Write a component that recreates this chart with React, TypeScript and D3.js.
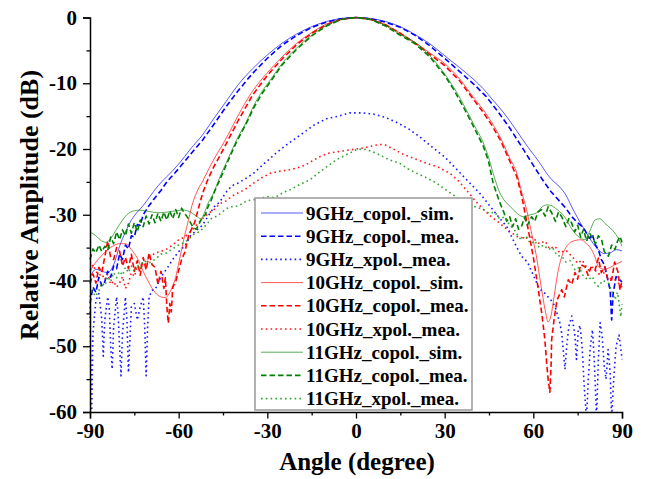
import * as d3 from "d3";
import React, { useRef, useEffect } from "react";

type Pt = [number, number];

// angle (deg), relative amplitude (dB)
const sim9: Pt[] = [
  [-90, -39.5], [-88, -38.3], [-86, -38.6], [-84, -38.8], [-82, -37.6], [-80, -34.8],
  [-78, -32.6], [-76, -30.8], [-74, -29.6], [-72, -28.6], [-70, -27.4], [-67, -25.6],
  [-64, -24.2], [-60, -22.3], [-56, -20.0], [-52, -17.9], [-48, -15.3], [-44, -12.8],
  [-40, -10.3], [-35, -7.8], [-30, -5.7], [-25, -3.9], [-20, -2.5], [-15, -1.4],
  [-10, -0.6], [-5, -0.15], [0, 0], [5, -0.15], [10, -0.6], [15, -1.4], [20, -2.6],
  [25, -4.0], [30, -5.8], [35, -7.6], [40, -9.5], [43, -10.8], [46, -12.4], [50, -14.5],
  [54, -17.0], [58, -19.6], [62, -22.0], [65, -24.0], [67, -25.0], [69, -25.8],
  [71, -27.0], [73, -28.8], [75, -30.5], [78, -32.8], [81, -34.8], [84, -35.9],
  [86, -35.8], [88, -35.3], [90, -35.5],
];

const mea9: Pt[] = [
  [-90, -43.5], [-89, -41.0], [-88, -41.8], [-87, -39.5], [-86, -40.8], [-85, -40.2],
  [-84, -38.6], [-83, -39.5], [-82, -37.8], [-81, -38.2], [-80, -36.0], [-79, -36.8],
  [-78, -34.6], [-77, -35.2], [-76, -33.2], [-75, -33.4], [-74, -31.5], [-73, -31.6],
  [-72, -30.0], [-70, -28.6], [-68, -27.4], [-66, -26.3], [-64, -25.0], [-60, -23.0],
  [-56, -20.8], [-52, -18.7], [-48, -16.2], [-44, -13.6], [-40, -11.2], [-35, -8.5],
  [-30, -6.2], [-25, -4.2], [-20, -2.7], [-15, -1.5], [-10, -0.7], [-5, -0.2], [0, 0],
  [5, -0.2], [10, -0.7], [15, -1.5], [20, -2.7], [25, -4.3], [30, -6.2], [35, -8.2],
  [40, -10.2], [44, -12.0], [48, -14.3], [52, -16.8], [56, -19.6], [60, -22.5],
  [63, -24.6], [66, -26.5], [69, -28.0], [71, -29.0], [73, -30.3], [75, -31.2],
  [77, -32.0], [79, -33.6], [80, -33.0], [81, -34.6], [82, -35.3], [83, -36.8],
  [84, -37.6], [85, -39.5], [86, -41.5], [86.5, -46.0], [87, -42.0], [88, -39.4],
  [89, -39.8], [90, -40.2],
];

const xpol9: Pt[] = [
  [-90, -44], [-89.5, -62], [-89, -48], [-88, -43], [-87, -42], [-86, -46], [-85.5, -51.5],
  [-85, -46], [-84, -42.5], [-83.5, -44], [-83, -50], [-82.5, -53.5], [-82, -47],
  [-81, -42.5], [-80.5, -45], [-80, -50], [-79.5, -54.5], [-79, -48], [-78, -42.5],
  [-77.5, -46], [-77, -54], [-76.5, -49], [-76, -44], [-75, -43.5], [-74, -46],
  [-73, -44], [-72, -42.5], [-71.5, -47], [-71, -54.5], [-70.5, -47], [-70, -42.5],
  [-69, -41.5], [-68, -41.4], [-66, -39.5], [-64, -38.2], [-62, -36.8], [-60, -35.6],
  [-58, -34.8], [-56, -33.2], [-54, -32.4], [-52, -31.6], [-50, -30.2], [-48, -28.8],
  [-46, -28.0], [-44, -26.6], [-42, -25.6], [-40, -25.2], [-37, -24.4], [-34.7, -23.7],
  [-31, -22.2], [-27, -20.6], [-23, -19.2], [-18, -17.6], [-14, -16.3], [-10, -15.4],
  [-6, -15.0], [-2, -14.5], [2, -14.5], [6, -14.7], [10, -15.2], [14, -16.0],
  [18, -17.0], [22, -18.3], [26, -19.8], [30, -21.2], [33, -22.6], [36, -24.0],
  [39, -25.4], [42, -26.8], [45, -28.5], [48, -30.2], [51, -31.8], [54, -34.6],
  [56, -36.3], [58, -37.2], [60, -39.2], [62, -41.2], [64, -42.0], [66, -43.0],
  [67.3, -43.9], [69, -46.5], [69.6, -48], [70.2, -51], [70.7, -53.5], [71.3, -50],
  [72, -47], [73, -45.4], [74, -48], [74.6, -52], [75.2, -47.5], [75.8, -46.8],
  [76.5, -50], [77.2, -56], [78, -61], [78.6, -55], [79.3, -50], [80, -47.5],
  [80.6, -52], [81.4, -61], [82, -52], [82.6, -46.4], [83.3, -48.5], [84, -53],
  [84.6, -55], [85.3, -50.5], [86, -54], [86.5, -61], [87.2, -55], [88, -50],
  [89, -48.3], [89.5, -50], [90, -52],
];

const sim10: Pt[] = [
  [-90, -38.6], [-88, -37.2], [-86, -36.2], [-84, -35.3], [-82, -34.7], [-80, -34.4],
  [-78, -34.4], [-76, -35.3], [-74, -36.6], [-72, -38.6], [-70, -40.4], [-68, -41.8],
  [-66, -42.5], [-64.5, -42.6], [-63, -41.8], [-62, -40.8], [-61, -39.5], [-60, -37.4],
  [-59, -35.3], [-58, -33.2], [-57, -31.4], [-55.5, -28.6], [-53.5, -26.2], [-52, -25.0],
  [-50, -23.2], [-48, -21.5], [-46, -20.0], [-43, -17.6], [-40, -15.0], [-35, -11.2],
  [-30, -8.4], [-25, -6.0], [-20, -3.9], [-15, -2.3], [-10, -1.0], [-5, -0.3], [0, 0],
  [5, -0.3], [10, -1.1], [15, -2.4], [20, -3.8], [25, -5.4], [30, -7.0], [35, -9.3],
  [40, -12.3], [43, -14.0], [46, -16.0], [49, -18.4], [52, -21.4], [54.4, -23.7],
  [56, -26.5], [57.7, -29.2], [59.5, -33.0], [61, -36.2], [62.5, -40.5], [64, -44.5],
  [65, -46.3], [66, -45.3], [67, -42.5], [68.2, -39.0], [69.6, -36.4], [71, -35.0],
  [73, -34.1], [76, -33.8], [78, -34.4], [79.7, -35.3], [81, -36.6], [82, -37.9],
  [84, -38.3], [86, -38.0], [88, -37.5], [90, -37.1],
];

const mea10: Pt[] = [
  [-90, -40.5], [-89, -39.0], [-88, -40.4], [-87, -38.0], [-86, -38.8], [-85, -36.4],
  [-84, -34.0], [-83, -36.5], [-82, -36.8], [-81, -35.0], [-80, -35.5], [-79, -37.8],
  [-78, -36.5], [-77, -38.2], [-76, -36.0], [-75, -38.6], [-74, -37.0], [-73, -39.2],
  [-72, -36.5], [-71, -38.4], [-70, -35.8], [-69, -37.6], [-68, -38.0], [-67, -40.6],
  [-66, -38.6], [-65, -41.2], [-64.5, -39.6], [-64, -44.0], [-63.5, -46.5], [-63, -43.5],
  [-62.5, -44.8], [-62, -41.0], [-61, -40.2], [-60.2, -38.8], [-59, -36.8], [-58, -35.8],
  [-56.5, -33.0], [-54.6, -31.2], [-53, -28.5], [-51.8, -26.6], [-50, -24.5], [-48, -22.6],
  [-46, -21.0], [-43, -18.4], [-40, -15.8], [-35, -11.8], [-30, -8.8], [-25, -6.3],
  [-20, -4.1], [-15, -2.4], [-10, -1.1], [-5, -0.3], [0, 0], [5, -0.3], [10, -1.1],
  [15, -2.4], [20, -3.9], [25, -5.6], [30, -7.3], [35, -9.6], [40, -12.6], [43, -14.4],
  [46, -16.4], [49, -18.8], [52, -21.8], [54.4, -24.2], [56, -27.0], [58.3, -32.3],
  [60, -36.5], [61.7, -41.4], [63, -45.5], [63.9, -49], [64.5, -52.5], [65, -55.0],
  [65.6, -57.0], [66, -53.0], [66.2, -49.0], [67, -46.0], [68, -43.0], [69.6, -41.4],
  [70.5, -42.5], [71.8, -39.9], [73, -40.6], [74.1, -38.8], [75, -39.8], [76, -37.6],
  [77.5, -37.9], [78.5, -39.2], [79.5, -38.0], [80.9, -38.4], [82, -36.6], [83, -38.8],
  [84.2, -37.9], [85.3, -40.0], [86.5, -39.9], [87.5, -37.2], [88.7, -38.8],
  [89.3, -41.5], [90, -40.0],
];

const xpol10: Pt[] = [
  [-90, -38.5], [-89, -37.6], [-88, -38.6], [-87, -39.2], [-86, -39.0], [-85, -39.9],
  [-84, -39.0], [-83, -40.6], [-82, -40.1], [-81, -41.0], [-80, -40.4], [-79, -39.4],
  [-78, -41.2], [-77, -40.4], [-76, -38.8], [-75, -39.4], [-74, -37.8], [-73, -38.4],
  [-72, -37.2], [-71, -37.6], [-70, -36.6], [-68, -35.8], [-66, -35.6], [-64, -35.2],
  [-62, -34.6], [-60, -33.8], [-58, -33.4], [-56, -32.6], [-54, -31.6], [-52, -30.6],
  [-50, -29.8], [-48, -29.2], [-46, -28.3], [-44, -27.9], [-42, -27.2], [-40, -26.7],
  [-37.7, -26.2], [-35, -25.3], [-32, -24.4], [-29, -23.7], [-26, -23.4], [-23, -23.2],
  [-20, -22.9], [-17, -22.4], [-14, -21.6], [-12, -21.1], [-9, -20.6], [-6, -20.4],
  [-3, -20.2], [0, -20.0], [3, -19.8], [6, -19.5], [8, -19.3], [10, -19.4], [13, -20.1],
  [16, -20.8], [20, -21.5], [24, -22.2], [28, -22.8], [31.8, -23.7], [35, -25.0],
  [38, -26.6], [41, -28.2], [43.1, -29.2], [46, -30.4], [48.7, -31.3], [51, -32.2],
  [54.4, -33.3], [57, -33.6], [59.5, -33.4], [62, -34.4], [64, -34.0], [65.5, -35.2],
  [67.3, -34.8], [69, -35.8], [71, -35.4], [73, -36.3], [75, -37.4], [76.5, -36.9],
  [78.6, -38.4], [80, -38.0], [82, -39.0], [84.2, -38.8], [85.5, -39.6], [87.6, -39.9],
  [89, -40.5], [90, -41.0],
];

const sim11: Pt[] = [
  [-90, -32.6], [-88, -33.2], [-86, -34.0], [-84.5, -34.2], [-83, -33.6], [-81, -32.2],
  [-79, -30.8], [-77, -29.8], [-75, -29.4], [-73, -29.3], [-70, -29.5], [-67, -29.7],
  [-64, -29.6], [-61, -29.4], [-58, -29.3], [-56, -29.6], [-54, -30.2], [-52.5, -30.6],
  [-51.2, -29.6], [-50, -28.2], [-48.3, -26.8], [-46, -24.2], [-43, -21.2],
  [-40.4, -18.6], [-37, -15.8], [-34.7, -13.5], [-32, -11.4], [-29, -9.5], [-25, -7.0],
  [-20, -4.6], [-15, -2.7], [-10, -1.2], [-5, -0.3], [0, 0], [5, -0.3], [10, -1.2],
  [15, -2.6], [20, -3.8], [25, -5.8], [30, -8.6], [33, -10.6], [37.4, -14.1],
  [40, -16.4], [43.1, -19.1], [44.8, -21.2], [46.4, -23.7], [48.7, -26.7], [50.5, -28.0],
  [52.1, -28.7], [54, -29.6], [56.6, -30.3], [59, -30.0], [61.1, -29.7], [63, -28.8],
  [64.5, -28.5], [66, -28.6], [68, -29.2], [69.6, -29.8], [71, -30.6], [72.5, -31.8],
  [74.1, -32.8], [76, -33.6], [77.5, -33.8], [79, -32.6], [80.9, -30.8], [82.5, -30.6],
  [84.2, -31.3], [86, -32.0], [87.6, -32.8], [89, -33.8], [90, -34.8],
];

const mea11: Pt[] = [
  [-90, -36.8], [-89, -35.2], [-88, -35.8], [-87, -34.6], [-86, -35.6], [-85, -34.8],
  [-84, -35.4], [-83, -33.4], [-82, -34.4], [-81, -32.6], [-80, -33.8], [-79, -32.3],
  [-78, -33.2], [-77, -31.4], [-76, -32.8], [-75, -31.2], [-74, -32.6], [-73, -30.8],
  [-72, -31.8], [-71, -30.2], [-70, -31.4], [-69, -30.0], [-68, -31.2], [-67, -29.8],
  [-66, -31.0], [-65, -29.6], [-64, -30.8], [-63, -29.4], [-62, -30.6], [-61, -29.2],
  [-60, -30.4], [-59, -29.0], [-58, -29.8], [-57, -30.4], [-56, -31.2], [-55, -32.0],
  [-54, -32.2], [-53, -31.3], [-52, -30.4], [-51, -30.0], [-50, -28.7], [-49, -27.8],
  [-47.8, -26.4], [-46, -24.6], [-43, -21.5], [-40.4, -18.9], [-37, -16.0],
  [-34.7, -13.8], [-32, -11.7], [-29, -9.8], [-25, -7.2], [-20, -4.8], [-15, -2.8],
  [-10, -1.3], [-5, -0.3], [0, 0], [5, -0.3], [10, -1.3], [15, -2.7], [20, -4.0],
  [25, -6.0], [30, -8.8], [33, -10.9], [37.4, -14.5], [40, -16.8], [43.1, -19.6],
  [44.8, -21.8], [46.4, -25.2], [48.7, -28.2], [50, -29.6], [51, -31.0], [52, -30.3],
  [53, -31.8], [54, -30.6], [55, -32.2], [56, -31.8], [57, -30.4], [58, -31.6],
  [59.4, -30.3], [60.5, -31.0], [61.5, -29.6], [62.8, -29.2], [64, -30.2], [65, -28.8],
  [66.2, -29.7], [67.5, -31.0], [68.5, -29.6], [69.6, -30.3], [71, -31.8], [72, -30.6],
  [73, -31.3], [74, -32.6], [75, -31.6], [76, -33.4], [77, -32.2], [78, -34.0],
  [79, -32.8], [79.7, -33.3], [81, -34.4], [82, -33.2], [83.1, -33.8], [84, -35.6],
  [85.4, -36.3], [86.5, -34.6], [87.6, -35.3], [88.5, -34.0], [89.3, -33.3], [90, -34.2],
];

const xpol11: Pt[] = [
  [-90, -42.5], [-89, -41.2], [-88.4, -42.4], [-87.3, -41.9], [-86, -40.4], [-85, -40.8],
  [-84, -39.4], [-83, -40.2], [-82, -38.8], [-81, -39.6], [-80, -38.6], [-79, -39.2],
  [-78, -38.0], [-77, -38.8], [-76, -37.8], [-75, -38.6], [-74, -37.6], [-73, -38.2],
  [-72, -37.0], [-70, -37.3], [-68, -36.8], [-66, -36.0], [-64, -35.8], [-62.5, -35.3],
  [-60, -34.6], [-58, -34.2], [-56.8, -33.8], [-55, -33.0], [-53, -32.6], [-51.2, -31.8],
  [-49, -30.6], [-47, -30.2], [-45.6, -29.7], [-43.5, -29.0], [-41.5, -28.7],
  [-39.9, -28.7], [-37, -27.9], [-34.7, -27.7], [-32.5, -27.6], [-30.2, -27.2],
  [-28, -27.4], [-26.8, -27.2], [-24.5, -26.6], [-22.3, -26.2], [-19, -25.4],
  [-15.6, -24.7], [-12, -23.4], [-9, -22.4], [-6.5, -21.6], [-3, -20.8], [0.2, -20.1],
  [2.5, -20.0], [5, -20.3], [8, -20.9], [11, -21.6], [14.9, -22.2], [17.5, -23.0],
  [20.5, -23.7], [24, -24.4], [27.3, -25.2], [31, -26.4], [35.2, -27.7], [39, -28.6],
  [43.1, -29.2], [45, -29.8], [47, -29.6], [48.5, -30.6], [50.4, -30.3], [52, -31.6],
  [53.5, -32.2], [55, -33.4], [56, -33.8], [57.5, -33.2], [59, -34.4], [60.5, -34.0],
  [62, -35.0], [63.5, -34.6], [65.1, -35.3], [66.5, -35.0], [68, -36.2], [69.6, -36.3],
  [71, -37.2], [72.5, -37.0], [74.1, -38.4], [75.5, -38.0], [77, -39.4], [78.6, -39.9],
  [80, -39.4], [81, -40.6], [82, -40.9], [83.5, -40.0], [85.4, -40.4], [86.5, -41.6],
  [87.6, -42.9], [88.5, -41.8], [89.3, -44.4], [89.6, -45.5], [90, -43.6],
];

const xTicks = [-90, -60, -30, 0, 30, 60, 90];
const yTicks = [0, -10, -20, -30, -40, -50, -60];

type Kind = "sim" | "mea" | "xpol";
const series: { name: string; data: Pt[]; color: string; kind: Kind }[] = [
  { name: "9GHz_copol._sim.", data: sim9, color: "#0000ff", kind: "sim" },
  { name: "9GHz_copol._mea.", data: mea9, color: "#0000ff", kind: "mea" },
  { name: "9GHz_xpol._mea.", data: xpol9, color: "#0000ff", kind: "xpol" },
  { name: "10GHz_copol._sim.", data: sim10, color: "#ff0000", kind: "sim" },
  { name: "10GHz_copol._mea.", data: mea10, color: "#ff0000", kind: "mea" },
  { name: "10GHz_xpol._mea.", data: xpol10, color: "#ff0000", kind: "xpol" },
  { name: "11GHz_copol._sim.", data: sim11, color: "#008000", kind: "sim" },
  { name: "11GHz_copol._mea.", data: mea11, color: "#008000", kind: "mea" },
  { name: "11GHz_xpol._mea.", data: xpol11, color: "#1f9a1f", kind: "xpol" },
];

const lineStyle = (kind: Kind) => {
  if (kind === "sim") return { width: 1, dash: null as string | null, opacity: 0.65 };
  if (kind === "mea") return { width: 1.6, dash: "5.5,3", opacity: 1 };
  return { width: 1.6, dash: "1.6,3.2", opacity: 0.9 };
};

const FONT = "'Liberation Serif', 'Times New Roman', serif";

const App = () => {
  const ref = useRef<SVGSVGElement | null>(null);

  useEffect(() => {
    if (!ref.current) return;
    const svg = d3.select(ref.current);
    svg.selectAll("*").remove();

    const x = d3.scaleLinear().domain([-90, 90]).range([90, 622]);
    const y = d3.scaleLinear().domain([-60, 0]).range([412, 17.5]);

    svg.append("defs").append("clipPath").attr("id", "plot")
      .append("rect").attr("x", 89).attr("y", 0).attr("width", 535).attr("height", 412);

    const line = d3.line<Pt>().x((d) => x(d[0])).y((d) => y(d[1]));
    const smooth = d3.line<Pt>().x((d) => x(d[0])).y((d) => y(d[1])).curve(d3.curveMonotoneX);

    const plot = svg.append("g").attr("clip-path", "url(#plot)");
    series.forEach((s) => {
      const st = lineStyle(s.kind);
      plot.append("path")
        .datum(s.data)
        .attr("fill", "none")
        .attr("stroke", s.color)
        .attr("stroke-width", st.width)
        .attr("stroke-opacity", st.opacity)
        .attr("stroke-dasharray", st.dash)
        .attr("stroke-linejoin", "round")
        .attr("d", s.kind === "sim" ? smooth : line);
    });

    // axes: major + minor ticks
    const fmt = (d: d3.NumberValue) => String(d);
    const yAxis = svg.append("g").attr("transform", "translate(90,0)")
      .call(d3.axisLeft(y).tickValues(yTicks).tickSize(7).tickPadding(6).tickFormat(fmt));
    svg.append("g").attr("transform", "translate(90,0)")
      .call(d3.axisLeft(y).tickValues(d3.range(-55, 0, 10)).tickSize(3.5).tickFormat(() => ""))
      .select(".domain").remove();
    const xAxis = svg.append("g").attr("transform", "translate(0,412)")
      .call(d3.axisBottom(x).tickValues(xTicks).tickSize(6.5).tickPadding(5).tickFormat(fmt));
    svg.append("g").attr("transform", "translate(0,412)")
      .call(d3.axisBottom(x).tickValues(d3.range(-75, 90, 30)).tickSize(3.5).tickFormat(() => ""))
      .select(".domain").remove();

    [yAxis, xAxis].forEach((a) => {
      a.select(".domain").attr("stroke-width", 1.5);
      a.selectAll("text")
        .style("font-family", FONT)
        .style("font-weight", "bold")
        .style("font-size", "21px")
        .attr("fill", "#000");
    });
    svg.selectAll(".tick line").attr("stroke-width", 1.3);

    svg.append("text")
      .attr("x", 357).attr("y", 470)
      .attr("text-anchor", "middle")
      .style("font-family", FONT).style("font-weight", "bold").style("font-size", "25px")
      .text("Angle (degree)");

    svg.append("text")
      .attr("transform", "translate(38,205) rotate(-90)")
      .attr("text-anchor", "middle")
      .style("font-family", FONT).style("font-weight", "bold").style("font-size", "26px")
      .text("Relative Amplitude (dB)");

    // legend
    const lg = svg.append("g");
    lg.append("rect")
      .attr("x", 255).attr("y", 198).attr("width", 217).attr("height", 212)
      .attr("fill", "#fff").attr("stroke", "#999").attr("stroke-width", 1.5);
    series.forEach((s, i) => {
      const st = lineStyle(s.kind);
      const cy = 213 + i * 23.2;
      lg.append("line")
        .attr("x1", 261).attr("x2", 303).attr("y1", cy).attr("y2", cy)
        .attr("stroke", s.color)
        .attr("stroke-width", st.width)
        .attr("stroke-opacity", st.opacity)
        .attr("stroke-dasharray", st.dash);
      lg.append("text")
        .attr("x", 306).attr("y", cy).attr("dy", "0.35em")
        .style("font-family", FONT).style("font-weight", "bold").style("font-size", "19px")
        .text(s.name);
    });
  }, []);

  return (
    <svg
      ref={ref}
      width={646}
      height={479}
      style={{ position: "absolute", left: 0, top: 0, background: "#fff" }}
    />
  );
};

export default App;
